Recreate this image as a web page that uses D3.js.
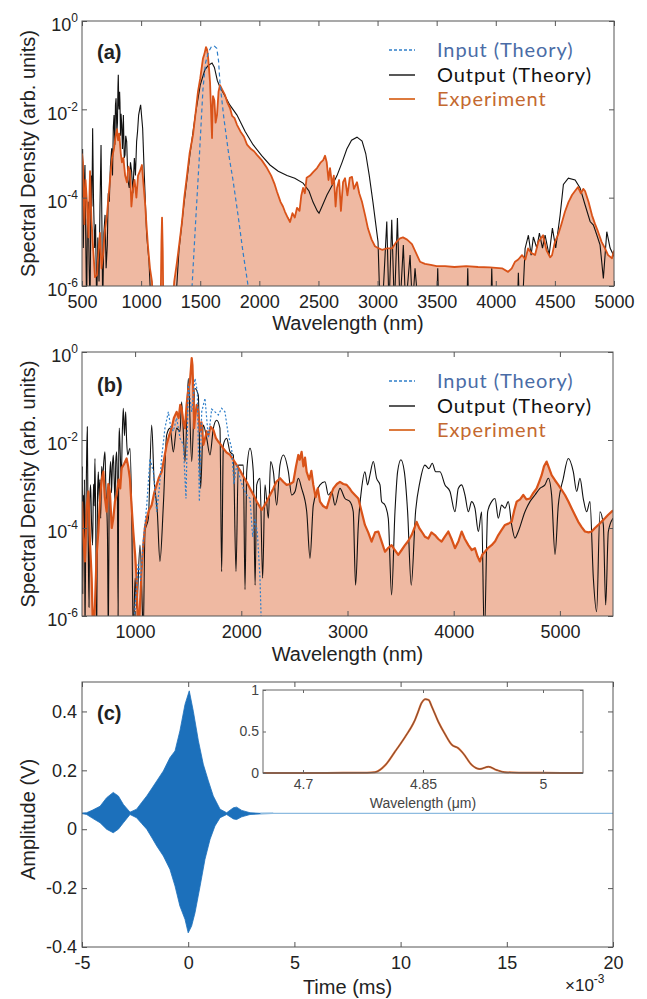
<!DOCTYPE html>
<html><head><meta charset="utf-8">
<script src="https://cdn.jsdelivr.net/npm/d3@7"></script>
<style>body{margin:0;background:#fff}svg{display:block}</style>
</head><body>
<svg id="chart" width="647" height="999"></svg>
<script>
// ---------- DATA (wavelength nm, log10 spectral density) ----------
const expA = [[500,-3.0],[508,-3.2],[520,-4.6],[530,-3.6],[542,-4.1],[555,-4.9],[568,-3.4],[580,-4.5],[593,-5.1],[610,-5.8],[627,-5.75],[640,-5.2],[652,-4.8],[665,-5.6],[678,-5.3],[695,-4.7],[711,-4.4],[730,-3.8],[754,-3.1],[770,-2.9],[785,-2.6],[796,-2.45],[805,-2.7],[815,-2.55],[828,-3.0],[838,-3.2],[850,-3.1],[865,-3.5],[880,-3.65],[892,-3.3],[906,-3.4],[918,-4.2],[931,-3.8],[945,-3.6],[960,-4.0],[974,-3.5],[990,-3.4],[1007,-3.26],[1020,-3.7],[1033,-4.1],[1045,-4.6],[1058,-5.1],[1075,-5.6],[1092,-5.9],[1100,-6.5],[1165,-6.5],[1172,-5.0],[1177,-4.45],[1183,-5.2],[1188,-6.5],[1265,-6.5],[1280,-5.9],[1304,-5.45],[1325,-5.0],[1346,-4.55],[1365,-4.0],[1388,-3.5],[1410,-3.0],[1439,-2.58],[1460,-2.1],[1481,-1.6],[1500,-1.3],[1523,-0.85],[1535,-0.75],[1549,-0.59],[1558,-0.65],[1566,-0.8],[1575,-1.1],[1583,-1.38],[1590,-1.9],[1600,-2.65],[1604,-2.0],[1608,-1.7],[1620,-1.8],[1630,-2.3],[1642,-2.13],[1655,-1.6],[1667,-1.45],[1685,-1.55],[1710,-1.68],[1730,-1.85],[1752,-1.97],[1770,-2.15],[1790,-2.2],[1811,-2.35],[1840,-2.5],[1870,-2.62],[1896,-2.8],[1930,-2.9],[1955,-2.95],[1980,-3.03],[2020,-3.15],[2065,-3.33],[2100,-3.5],[2130,-3.7],[2150,-3.87],[2180,-4.1],[2200,-4.2],[2217,-4.32],[2240,-4.45],[2260,-4.55],[2280,-4.35],[2300,-4.45],[2319,-4.23],[2340,-4.3],[2355,-3.95],[2370,-3.78],[2385,-3.9],[2400,-3.55],[2429,-3.5],[2455,-3.42],[2488,-3.33],[2520,-3.2],[2540,-3.15],[2556,-3.05],[2570,-3.2],[2585,-3.6],[2598,-3.33],[2615,-3.7],[2630,-3.5],[2645,-4.2],[2657,-3.78],[2675,-3.6],[2690,-4.3],[2708,-3.65],[2725,-3.56],[2745,-3.95],[2765,-3.55],[2784,-3.53],[2800,-3.8],[2826,-3.65],[2845,-3.9],[2869,-4.1],[2895,-4.4],[2919,-4.7],[2950,-4.95],[2978,-5.1],[3010,-5.15],[3038,-5.18],[3080,-5.15],[3122,-5.15],[3160,-5.0],[3190,-4.92],[3215,-4.9],[3250,-4.95],[3291,-5.05],[3325,-5.25],[3359,-5.45],[3401,-5.5],[3450,-5.52],[3500,-5.55],[3571,-5.55],[3650,-5.57],[3750,-5.55],[3850,-5.57],[3950,-5.58],[4053,-5.6],[4104,-5.68],[4135,-5.6],[4163,-5.45],[4190,-5.4],[4222,-5.3],[4250,-5.4],[4273,-5.15],[4300,-5.25],[4332,-5.3],[4360,-5.0],[4400,-4.85],[4430,-5.2],[4460,-5.35],[4476,-5.3],[4500,-5.0],[4526,-4.85],[4555,-4.6],[4585,-4.32],[4615,-4.1],[4645,-3.94],[4670,-3.85],[4696,-3.76],[4720,-3.9],[4740,-3.8],[4755,-3.85],[4785,-4.1],[4814,-4.4],[4840,-4.6],[4865,-4.77],[4895,-5.0],[4924,-5.15],[4950,-5.3],[4983,-5.37],[5000,-5.2]];

const outA = [[500,-4.0],[505,-2.9],[511,-5.14],[518,-3.8],[525,-3.26],[532,-5.0],[539,-6.5],[546,-4.5],[553,-4.09],[560,-5.5],[568,-6.5],[577,-3.5],[584,-4.2],[590,-2.43],[597,-4.0],[607,-5.14],[615,-4.6],[624,-6.5],[634,-4.9],[644,-5.9],[652,-4.2],[661,-2.81],[668,-4.5],[675,-6.5],[685,-4.8],[695,-4.39],[704,-5.6],[714,-5.07],[722,-3.9],[731,-4.09],[740,-3.3],[751,-2.88],[758,-3.5],[765,-2.4],[771,-2.13],[778,-2.8],[783,-1.9],[788,-1.75],[795,-2.5],[800,-2.3],[804,-1.5],[807,-1.22],[811,-1.9],[814,-2.0],[818,-1.6],[821,-1.83],[826,-2.6],[830,-2.1],[836,-2.35],[842,-2.9],[850,-2.13],[857,-3.1],[864,-3.03],[870,-2.6],[878,-2.73],[888,-3.6],[900,-3.78],[910,-3.2],[920,-3.41],[930,-3.9],[943,-3.1],[952,-3.5],[962,-2.73],[970,-2.5],[979,-2.13],[988,-2.0],[996,-1.9],[1013,-2.43],[1027,-3.49],[1047,-4.84],[1067,-5.45],[1084,-6.5],[1290,-6.5],[1320,-5.2],[1360,-4.2],[1414,-3.0],[1460,-2.1],[1500,-1.45],[1540,-1.1],[1570,-1.0],[1600,-0.95],[1620,-1.05],[1645,-1.35],[1667,-1.5],[1700,-1.65],[1750,-1.9],[1811,-2.13],[1880,-2.5],[1947,-2.8],[2020,-3.05],[2090,-3.26],[2160,-3.4],[2234,-3.5],[2300,-3.56],[2370,-3.67],[2420,-3.85],[2454,-4.1],[2490,-4.3],[2505,-4.35],[2530,-4.2],[2572,-3.94],[2620,-3.7],[2657,-3.5],[2700,-3.2],[2740,-2.9],[2780,-2.7],[2826,-2.63],[2869,-2.72],[2900,-3.0],[2930,-3.5],[2961,-4.1],[3004,-5.0],[3021,-6.5],[3041,-6.5],[3078,-4.54],[3097,-6.5],[3120,-4.5],[3142,-6.5],[3168,-4.46],[3190,-6.5],[3218,-5.07],[3238,-6.5],[3275,-5.3],[3295,-6.5],[3317,-5.6],[3345,-6.5],[3500,-6.5],[3509,-5.6],[3518,-6.5],[3755,-6.5],[3763,-5.6],[3771,-6.5],[3958,-6.5],[3966,-5.6],[3974,-6.5],[4183,-6.5],[4191,-5.7],[4200,-6.5],[4225,-6.5],[4248,-5.15],[4276,-4.85],[4299,-5.3],[4318,-4.89],[4347,-5.14],[4369,-4.8],[4395,-5.14],[4417,-4.85],[4451,-5.3],[4479,-4.69],[4507,-5.14],[4544,-4.4],[4572,-3.7],[4614,-3.56],[4671,-3.6],[4713,-3.78],[4755,-4.16],[4798,-4.54],[4826,-4.62],[4854,-4.84],[4882,-5.07],[4910,-5.83],[4939,-4.77],[4967,-5.14],[4995,-5.3],[5000,-5.2]];

const inA = [[1415,-6.5],[1431,-6.0],[1460,-4.6],[1490,-3.2],[1523,-1.55],[1545,-0.95],[1570,-0.7],[1595,-0.58],[1617,-0.56],[1640,-0.62],[1655,-0.9],[1667,-1.4],[1700,-2.2],[1740,-3.0],[1777,-3.6],[1820,-4.4],[1860,-5.2],[1905,-6.0],[1920,-6.5]];

const expB = [[500,-3.4],[512,-4.2],[528,-4.76],[545,-3.5],[560,-3.17],[575,-4.3],[591,-5.14],[605,-6.5],[622,-5.75],[638,-4.6],[654,-4.08],[670,-3.3],[685,-2.9],[701,-2.72],[715,-3.3],[732,-3.63],[748,-3.0],[763,-3.17],[780,-4.0],[795,-3.78],[810,-3.4],[826,-3.25],[845,-2.9],[860,-3.1],[873,-2.64],[895,-2.55],[920,-2.42],[935,-2.6],[951,-2.87],[967,-3.5],[983,-4.08],[1000,-4.6],[1014,-5.14],[1030,-6.5],[1046,-5.75],[1060,-5.0],[1077,-4.39],[1092,-4.0],[1109,-3.78],[1130,-3.6],[1156,-3.48],[1180,-3.2],[1203,-3.02],[1225,-2.85],[1250,-2.72],[1275,-2.4],[1297,-2.11],[1320,-1.9],[1344,-1.73],[1365,-1.5],[1391,-1.36],[1410,-1.5],[1425,-1.2],[1438,-1.28],[1455,-1.6],[1470,-1.73],[1485,-1.2],[1501,-0.83],[1515,-0.7],[1525,-0.4],[1533,-0.14],[1540,-0.3],[1548,-0.9],[1556,-1.73],[1564,-1.5],[1580,-1.2],[1596,-1.36],[1610,-1.8],[1625,-1.6],[1643,-2.11],[1660,-1.95],[1675,-1.8],[1690,-1.89],[1710,-1.7],[1737,-1.77],[1760,-1.95],[1784,-2.04],[1805,-2.1],[1831,-2.19],[1860,-2.28],[1894,-2.34],[1925,-2.45],[1957,-2.57],[1990,-2.7],[2019,-2.83],[2050,-2.95],[2082,-3.1],[2115,-3.25],[2145,-3.4],[2170,-3.5],[2192,-3.59],[2215,-3.5],[2239,-3.4],[2270,-3.25],[2302,-3.1],[2330,-2.95],[2365,-2.87],[2395,-2.95],[2427,-3.02],[2460,-3.0],[2490,-2.95],[2515,-2.6],[2537,-2.34],[2550,-2.45],[2568,-2.27],[2585,-2.6],[2600,-2.4],[2615,-2.72],[2640,-2.9],[2660,-2.7],[2678,-3.02],[2700,-3.3],[2720,-3.1],[2741,-3.4],[2770,-3.5],[2804,-3.55],[2835,-3.3],[2867,-3.1],[2900,-3.0],[2929,-2.95],[2960,-3.0],[2992,-3.02],[3020,-3.1],[3039,-3.17],[3070,-3.25],[3102,-3.33],[3130,-3.6],[3164,-3.93],[3195,-4.1],[3227,-4.31],[3260,-4.1],[3290,-4.08],[3320,-4.3],[3353,-4.54],[3385,-4.45],[3415,-4.39],[3445,-4.5],[3478,-4.61],[3510,-4.5],[3541,-4.39],[3570,-4.3],[3604,-4.16],[3630,-4.0],[3651,-3.86],[3675,-4.0],[3698,-4.08],[3730,-4.2],[3761,-4.24],[3790,-4.1],[3823,-4.16],[3855,-4.25],[3886,-4.31],[3915,-4.2],[3949,-4.08],[3980,-4.25],[4012,-4.46],[4045,-4.3],[4075,-4.08],[4105,-4.25],[4138,-4.39],[4170,-4.5],[4200,-4.46],[4225,-4.65],[4247,-4.76],[4270,-4.6],[4294,-4.54],[4325,-4.45],[4357,-4.39],[4390,-4.3],[4420,-4.16],[4450,-4.05],[4483,-3.93],[4515,-3.9],[4546,-3.86],[4570,-3.6],[4593,-3.4],[4625,-3.35],[4655,-3.25],[4685,-3.35],[4718,-3.33],[4750,-3.2],[4781,-3.1],[4805,-2.95],[4828,-2.8],[4850,-2.6],[4875,-2.49],[4900,-2.65],[4922,-2.8],[4955,-2.92],[4985,-3.02],[5015,-3.13],[5048,-3.25],[5080,-3.4],[5110,-3.55],[5140,-3.7],[5173,-3.86],[5205,-3.98],[5236,-4.08],[5270,-4.1],[5299,-4.08],[5330,-4.0],[5362,-3.93],[5395,-3.85],[5424,-3.78],[5455,-3.7],[5500,-3.6]];

const outB = [[500,-3.63],[504,-2.6],[507,-5.5],[512,-3.25],[518,-4.4],[523,-2.9],[528,-6.5],[536,-3.8],[543,-2.5],[550,-1.7],[556,-3.6],[566,-5.8],[573,-3.4],[581,-3.02],[590,-3.9],[600,-4.39],[608,-3.0],[615,-3.5],[622,-2.42],[630,-4.1],[638,-6.5],[646,-3.3],[654,-2.72],[662,-3.4],[669,-2.9],[676,-3.78],[685,-2.6],[694,-2.87],[705,-2.5],[716,-2.27],[724,-3.0],[732,-3.48],[740,-4.2],[748,-6.5],[756,-3.1],[763,-2.7],[770,-2.49],[778,-3.2],[786,-2.6],[795,-2.34],[803,-2.9],[811,-3.4],[818,-2.5],[826,-2.27],[833,-3.0],[840,-6.0],[846,-2.4],[851,-1.73],[860,-2.3],[870,-2.87],[880,-1.8],[889,-1.28],[900,-1.9],[911,-1.36],[920,-2.0],[930,-2.34],[952,-2.19],[968,-3.63],[983,-6.5],[1000,-5.14],[1015,-5.83],[1046,-4.39],[1068,-5.83],[1076,-6.5],[1093,-4.08],[1125,-3.78],[1156,-1.66],[1178,-2.87],[1209,-3.63],[1234,-4.76],[1266,-3.48],[1297,-1.89],[1329,-1.73],[1360,-2.27],[1391,-1.73],[1423,-1.81],[1438,-1.13],[1470,-2.49],[1501,-0.6],[1533,-2.49],[1564,-0.83],[1595,-0.98],[1617,-3.1],[1642,-1.66],[1674,-1.96],[1705,-2.34],[1737,-1.73],[1768,-1.55],[1799,-1.73],[1815,-4.99],[1831,-2.11],[1862,-1.96],[1894,-2.27],[1925,-2.34],[1950,-4.99],[1972,-2.57],[2019,-2.57],[2035,-5.4],[2051,-2.72],[2082,-2.19],[2113,-2.72],[2130,-5.3],[2145,-3.02],[2176,-2.87],[2201,-5.14],[2223,-3.02],[2255,-3.78],[2276,-2.49],[2302,-2.72],[2333,-3.48],[2364,-2.57],[2396,-2.34],[2443,-2.72],[2474,-3.25],[2506,-3.17],[2537,-2.87],[2568,-3.1],[2616,-3.63],[2647,-4.69],[2678,-3.48],[2741,-3.02],[2788,-2.95],[2820,-3.25],[2851,-3.17],[2882,-3.48],[2929,-3.1],[2976,-3.33],[3023,-3.4],[3054,-3.63],[3076,-5.3],[3102,-3.93],[3133,-3.1],[3164,-2.72],[3189,-3.02],[3211,-2.8],[3243,-2.49],[3274,-2.87],[3306,-3.02],[3321,-3.4],[3353,-3.48],[3384,-3.78],[3415,-5.52],[3447,-3.63],[3472,-2.72],[3503,-2.45],[3535,-2.72],[3566,-3.63],[3600,-5.3],[3641,-3.63],[3682,-2.95],[3729,-2.57],[3767,-2.65],[3798,-2.53],[3830,-2.72],[3871,-2.72],[3918,-3.02],[3965,-3.17],[4012,-3.63],[4043,-3.1],[4075,-3.02],[4106,-3.25],[4138,-3.63],[4169,-3.4],[4200,-3.55],[4232,-4.08],[4263,-3.63],[4288,-6.5],[4320,-3.63],[4357,-3.4],[4389,-3.33],[4420,-3.78],[4451,-3.48],[4483,-3.55],[4514,-3.4],[4546,-3.93],[4577,-4.23],[4608,-4.08],[4671,-3.63],[4718,-3.4],[4765,-3.25],[4812,-3.1],[4859,-3.02],[4891,-2.87],[4922,-3.25],[4954,-4.6],[4985,-3.48],[5032,-2.87],[5079,-2.42],[5126,-2.72],[5158,-3.17],[5189,-2.87],[5220,-3.33],[5252,-3.63],[5283,-3.4],[5315,-5.14],[5346,-5.9],[5377,-3.63],[5409,-3.93],[5431,-5.75],[5456,-4.08],[5500,-3.78]];

const inB = [[983,-6.5],[1008,-5.5],[1030,-4.8],[1052,-5.2],[1077,-4.3],[1109,-3.5],[1140,-2.42],[1172,-2.72],[1203,-3.63],[1228,-3.1],[1250,-2.4],[1281,-1.73],[1313,-1.36],[1335,-1.7],[1360,-1.8],[1391,-1.5],[1423,-1.96],[1454,-2.11],[1479,-3.33],[1501,-0.75],[1533,-1.36],[1564,-0.6],[1586,-0.9],[1605,-3.4],[1627,-1.36],[1658,-1.05],[1690,-1.96],[1721,-1.3],[1752,-1.36],[1784,-1.43],[1815,-1.28],[1846,-1.36],[1878,-1.89],[1909,-2.19],[1931,-3.0],[1956,-2.57],[1988,-2.87],[2019,-3.1],[2051,-3.25],[2082,-3.33],[2107,-4.2],[2129,-3.78],[2151,-4.1],[2176,-5.14],[2192,-6.5]];

// panel (c): time (x1e-3 ms), amplitude (V) envelope of the oscillating trace
const upperC = [[-5,0.055],[-4.78,0.056],[-4.5,0.065],[-4.15,0.078],[-3.84,0.107],[-3.53,0.125],[-3.29,0.113],[-3.05,0.084],[-2.74,0.058],[-2.43,0.068],[-2.2,0.09],[-1.95,0.113],[-1.7,0.14],[-1.48,0.164],[-1.17,0.198],[-0.86,0.243],[-0.62,0.266],[-0.39,0.334],[-0.15,0.424],[0.05,0.47],[0.24,0.401],[0.48,0.3],[0.71,0.221],[0.95,0.164],[1.18,0.113],[1.5,0.068],[1.81,0.056],[2.13,0.073],[2.28,0.075],[2.52,0.064],[2.91,0.056],[3.38,0.054],[4.0,0.0545]];
const lowerC = [[-5,0.053],[-4.78,0.05],[-4.5,0.037],[-4.15,0.022],[-3.84,0.0],[-3.53,-0.012],[-3.29,0.0],[-3.05,0.022],[-2.74,0.05],[-2.43,0.039],[-2.2,0.02],[-1.95,0.0],[-1.7,-0.03],[-1.48,-0.057],[-1.17,-0.091],[-0.86,-0.136],[-0.62,-0.193],[-0.39,-0.261],[-0.15,-0.306],[0.0,-0.352],[0.16,-0.329],[0.32,-0.284],[0.56,-0.193],[0.79,-0.102],[1.03,-0.034],[1.26,0.011],[1.5,0.039],[1.81,0.05],[2.13,0.035],[2.28,0.033],[2.52,0.042],[2.91,0.05],[3.38,0.052],[4.0,0.0535]];
const baseC = [[3.4,0.054],[20,0.054]];

// inset: wavelength (um), normalized intensity
const insetWl  = [4.65,4.70,4.75,4.78,4.79,4.803,4.815,4.828,4.838,4.84,4.844,4.848,4.853,4.857,4.861,4.869,4.878,4.886,4.894,4.9,4.911,4.921,4.932,4.942,4.952,4.97,5.0,5.05];
const insetVal = [0,0,0.002,0.004,0.01,0.096,0.257,0.44,0.60,0.64,0.74,0.84,0.89,0.88,0.80,0.62,0.46,0.34,0.30,0.24,0.096,0.048,0.076,0.036,0.01,0.004,0.002,0];

const ticksA = [500,1000,1500,2000,2500,3000,3500,4000,4500,5000];
const ticksB = [1000,2000,3000,4000,5000];
const ticksC = [-5,0,5,10,15,20];
const ticksCy = [-0.4,-0.2,0,0.2,0.4];
const logTicks = [1,1e-2,1e-4,1e-6];
const legendNames = ["Input (Theory)","Output (Theory)","Experiment"];

// ---------- STYLE ----------
const FONT = "'Liberation Sans', Arial, sans-serif";
const C_EXP = "#d95319", C_FILL = "#efb9a2", C_OUT = "#111", C_IN = "#2f7fc9";
const svg = d3.select("#chart");
svg.append("rect").attr("width",647).attr("height",999).attr("fill","#fff");

function styleAxis(g){
  g.select(".domain").remove();
  g.selectAll(".tick line").attr("stroke","#555");
  g.selectAll("text").attr("font-family",FONT).attr("font-size",18).attr("fill","#222");
}
function frame(g,L,T,R,B){
  g.append("rect").attr("x",L).attr("y",T).attr("width",R-L).attr("height",B-T)
    .attr("fill","none").attr("stroke","#555").attr("stroke-width",1);
}
const fmt = d => String(+d.toFixed(1));

function spectrum(o){
  const {L,T,R,B} = o;
  const g = svg.append("g");
  const x = d3.scaleLinear().domain(o.xDomain).range([L,R]);
  const y = d3.scaleLog().domain([1e-6,1]).range([B,T]);
  const X = d => x(d[0]), Y = d => y(Math.pow(10,d[1]));
  const cid = "clip"+o.id;
  svg.append("clipPath").attr("id",cid).append("rect").attr("x",L).attr("y",T).attr("width",R-L).attr("height",B-T);
  const pg = g.append("g").attr("clip-path",`url(#${cid})`);
  pg.append("path").datum(o.exp).attr("fill",C_FILL)
    .attr("d", d3.area().x(X).y0(B).y1(Y));
  pg.append("path").datum(o.out).attr("fill","none").attr("stroke",C_OUT).attr("stroke-width",1.1)
    .attr("d", d3.line().x(X).y(Y).curve(o.outCurve));
  pg.append("path").datum(o.exp).attr("fill","none").attr("stroke",C_EXP).attr("stroke-width",o.expW)
    .attr("stroke-linejoin","round").attr("d", d3.line().x(X).y(Y));
  pg.append("path").datum(o.inp).attr("fill","none").attr("stroke",C_IN).attr("stroke-width",1.2)
    .attr("stroke-dasharray",o.dash).attr("d", d3.line().x(X).y(Y));

  g.append("g").attr("transform",`translate(0,${B})`)
    .call(d3.axisBottom(x).tickValues(o.xTicks).tickSize(-5).tickSizeOuter(0).tickPadding(9).tickFormat(d3.format("d")))
    .call(styleAxis);
  g.append("g").attr("transform",`translate(0,${T})`)
    .call(d3.axisTop(x).tickValues(o.xTicks).tickSize(-5).tickSizeOuter(0).tickFormat(""))
    .call(styleAxis);
  const ya = g.append("g").attr("transform",`translate(${L},0)`)
    .call(d3.axisLeft(y).tickValues(logTicks).tickSize(-5).tickSizeOuter(0).tickPadding(4))
    .call(styleAxis);
  ya.selectAll(".tick text").each(function(d){
    const t = d3.select(this); t.text(null).attr("dy","0.55em");
    t.append("tspan").text("10");
    t.append("tspan").attr("dy","-0.75em").attr("font-size",12).text(String(Math.round(Math.log10(d))));
  });
  g.append("g").attr("transform",`translate(${R},0)`)
    .call(d3.axisRight(y).tickValues(logTicks).tickSize(-5).tickSizeOuter(0).tickFormat(""))
    .call(styleAxis);
  frame(g,L,T,R,B);

  g.append("text").attr("x",(L+R)/2).attr("y",o.xlabY).attr("text-anchor","middle")
    .attr("font-family",FONT).attr("font-size",20).attr("fill","#222").text("Wavelength (nm)");
  g.append("text").attr("transform",`translate(28,${(T+B)/2}) rotate(-90)`).attr("dy","0.35em")
    .attr("text-anchor","middle").attr("font-family",FONT).attr("font-size",20).attr("fill","#222")
    .text("Spectral Density (arb. units)");
  g.append("text").attr("x",97).attr("y",o.letterY).attr("font-family",FONT).attr("font-weight","bold")
    .attr("font-size",20).attr("fill","#222").text(o.letter);

  // legend
  const cols = [C_IN, C_OUT, "#dd7a3e"], tcols = ["#4a6ca6","#111","#c4692f"];
  o.legY.forEach((by,i)=>{
    const ly = by-7;
    const ln = g.append("line").attr("x1",389).attr("x2",415).attr("y1",ly).attr("y2",ly)
      .attr("stroke",cols[i]).attr("stroke-width", i===2?2:1.4);
    if(i===0) ln.attr("stroke-dasharray","3,2");
    g.append("text").attr("x",437).attr("y",by).attr("font-family","Lato, sans-serif")
      .attr("font-size",20).attr("letter-spacing","0.9px").attr("fill",tcols[i]).text(legendNames[i]);
  });
}

spectrum({id:"a",L:82,T:21,R:614,B:286,xDomain:[500,5000],xTicks:ticksA,exp:expA,out:outA,inp:inA,
  dash:"4,3",xlabY:330,letter:"(a)",letterY:59,legY:[57,82,106],outCurve:d3.curveLinear,expW:1.8});
spectrum({id:"b",L:82,T:352,R:613,B:616,xDomain:[500,5500],xTicks:ticksB,exp:expB,out:outB,inp:inB,
  dash:"2,2",xlabY:661,letter:"(b)",letterY:392,legY:[388,413,437],outCurve:d3.curveMonotoneX,expW:2.2});

// ---------- panel (c) ----------
(function(){
  const L=82,T=682,R=613,B=947;
  const g = svg.append("g");
  const x = d3.scaleLinear().domain([-5,20]).range([L,R]);
  const y = d3.scaleLinear().domain([-0.4,0.5]).range([B,T]);
  svg.append("clipPath").attr("id","clipc").append("rect").attr("x",L).attr("y",T).attr("width",R-L).attr("height",B-T);
  const pg = g.append("g").attr("clip-path","url(#clipc)");
  const poly = upperC.concat(lowerC.slice().reverse());
  pg.append("path").datum(poly).attr("fill","#1c70bb").attr("stroke","#1c70bb").attr("stroke-width",0.8)
    .attr("d", d3.line().x(d=>x(d[0])).y(d=>y(d[1])).curve(d3.curveLinearClosed));
  pg.append("path").datum(baseC).attr("fill","none").attr("stroke","#8dbbe0").attr("stroke-width",1.2)
    .attr("d", d3.line().x(d=>x(d[0])).y(d=>y(d[1])));

  g.append("g").attr("transform",`translate(0,${B})`)
    .call(d3.axisBottom(x).tickValues(ticksC).tickSize(-5).tickSizeOuter(0).tickPadding(9).tickFormat(fmt)).call(styleAxis);
  g.append("g").attr("transform",`translate(0,${T})`)
    .call(d3.axisTop(x).tickValues(ticksC).tickSize(-5).tickSizeOuter(0).tickFormat("")).call(styleAxis);
  g.append("g").attr("transform",`translate(${L},0)`)
    .call(d3.axisLeft(y).tickValues(ticksCy).tickSize(-5).tickSizeOuter(0).tickPadding(5).tickFormat(fmt)).call(styleAxis);
  g.append("g").attr("transform",`translate(${R},0)`)
    .call(d3.axisRight(y).tickValues(ticksCy).tickSize(-5).tickSizeOuter(0).tickFormat("")).call(styleAxis);
  frame(g,L,T,R,B);

  g.append("text").attr("x",(L+R)/2).attr("y",994).attr("text-anchor","middle")
    .attr("font-family",FONT).attr("font-size",20).attr("fill","#222").text("Time (ms)");
  g.append("text").attr("transform",`translate(28,${(T+B)/2+5}) rotate(-90)`).attr("dy","0.35em")
    .attr("text-anchor","middle").attr("font-family",FONT).attr("font-size",20).attr("fill","#222").text("Amplitude (V)");
  g.append("text").attr("x",97).attr("y",720).attr("font-family",FONT).attr("font-weight","bold")
    .attr("font-size",20).attr("fill","#222").text("(c)");
  const ex = g.append("text").attr("x",565).attr("y",991).attr("font-family",FONT).attr("font-size",17).attr("fill","#222");
  ex.append("tspan").text("×10");
  ex.append("tspan").attr("dy","-0.7em").attr("font-size",12).text("-3");

  // inset
  const iL=263,iT=690,iR=583,iB=773;
  const ix = d3.scaleLinear().domain([4.65,5.05]).range([iL,iR]);
  const iy = d3.scaleLinear().domain([0,1]).range([iB,iT]);
  g.append("rect").attr("x",iL).attr("y",iT).attr("width",iR-iL).attr("height",iB-iT).attr("fill","#fff");
  const ipts = insetWl.map((w,i)=>[w,insetVal[i]]);
  const il = d3.line().x(d=>ix(d[0])).y(d=>iy(d[1])).curve(d3.curveMonotoneX);
  g.append("path").datum(ipts).attr("fill","none").attr("stroke","#e06a2c").attr("stroke-width",2).attr("d",il);
  g.append("path").datum(ipts).attr("fill","none").attr("stroke","#6e4a3a").attr("stroke-width",0.9).attr("d",il);
  const fmt2 = d => String(+d.toFixed(2));
  const sInset = a => { a.select(".domain").remove(); a.selectAll(".tick line").attr("stroke","#666");
    a.selectAll("text").attr("font-family",FONT).attr("font-size",14).attr("fill","#444"); };
  g.append("g").attr("transform",`translate(0,${iB})`)
    .call(d3.axisBottom(ix).tickValues([4.7,4.85,5]).tickSize(-3).tickSizeOuter(0).tickPadding(6).tickFormat(fmt2)).call(sInset);
  g.append("g").attr("transform",`translate(0,${iT})`)
    .call(d3.axisTop(ix).tickValues([4.7,4.85,5]).tickSize(-3).tickSizeOuter(0).tickFormat("")).call(sInset);
  g.append("g").attr("transform",`translate(${iL},0)`)
    .call(d3.axisLeft(iy).tickValues([0,0.5,1]).tickSize(-3).tickSizeOuter(0).tickPadding(4).tickFormat(fmt)).call(sInset);
  g.append("g").attr("transform",`translate(${iR},0)`)
    .call(d3.axisRight(iy).tickValues([0,0.5,1]).tickSize(-3).tickSizeOuter(0).tickFormat("")).call(sInset);
  g.append("rect").attr("x",iL).attr("y",iT).attr("width",iR-iL).attr("height",iB-iT)
    .attr("fill","none").attr("stroke","#666").attr("stroke-width",1);
  g.append("text").attr("x",(iL+iR)/2).attr("y",808).attr("text-anchor","middle")
    .attr("font-family",FONT).attr("font-size",14).attr("fill","#444").text("Wavelength (μm)");
})();
</script>
</body></html>
